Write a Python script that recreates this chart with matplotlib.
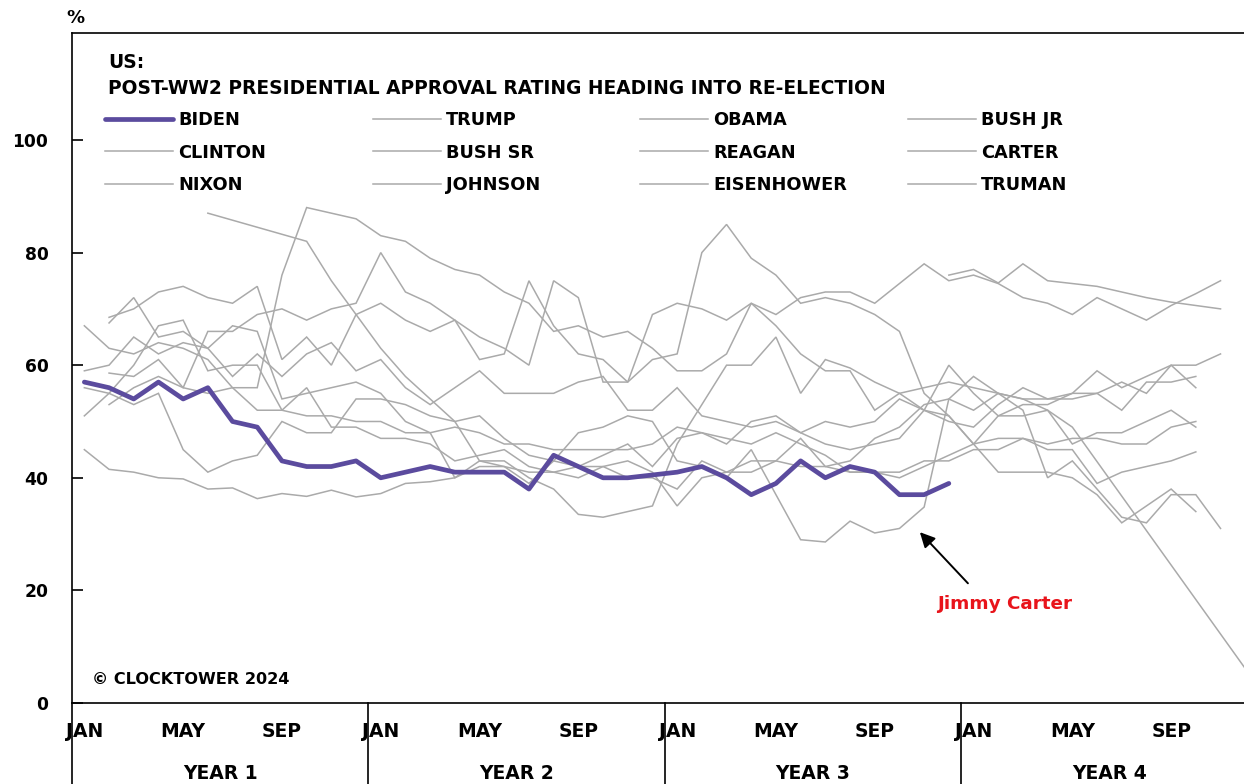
import numpy as np
import matplotlib.pyplot as plt
import matplotlib.transforms as mtransforms
from matplotlib.lines import Line2D

nan = np.nan
N = 49  # month slots, JAN year 1 = 0

def pad(vals, start=0):
    out = [nan] * N
    for i, v in enumerate(vals):
        out[start + i] = v
    return np.array(out, dtype=float)

biden = pad([57, 56, 54, 57, 54, 56, 50, 49, 43, 42, 42, 43,
             40, 41, 42, 41, 41, 41, 38, 44, 42, 40, 40, 40.5,
             41, 42, 40, 37, 39, 43, 40, 42, 41, 37, 37, 39])

trump = pad([45, 41.5, 41, 40, 39.8, 38, 38.2, 36.3, 37.2, 36.7, 37.8, 36.6,
             37.2, 39, 39.3, 40, 42, 42, 41, 41, 40, 42, 40, 40,
             38, 43, 41, 43, 43, 42, 42, 41, 41, 40, 42, 44,
             46, 47, 47, 45, 45, 39, 41, 42, 43, 44.6])
obama = pad([67, 63, 62, 64, 63, 61, 56, 52, 52, 51, 51, 50,
             50, 48, 48, 49, 48, 46, 46, 45, 45, 45, 45, 46,
             49, 48, 47, 46, 48, 46, 44, 41, 41, 41, 43, 43,
             45, 45, 47, 46, 47, 47, 46, 46, 49, 50])
bush_jr = pad([58.6, 58, 61, 56, 55, 56, 56, 76, 88, 87, 86,
               83, 82, 79, 77, 76, 73, 71, 66, 67, 65, 66, 63,
               59, 59, 62, 71, 67, 62, 59, 59, 52, 55, 52, 60,
               55, 51, 51, 52, 46, 48, 48, 50, 52, 49], start=1)
clinton = pad([56, 55, 53, 55, 45, 41, 43, 44, 50, 48, 48, 54,
               54, 53, 51, 50, 51, 47, 44, 43, 42, 44, 46, 42,
               47, 48, 46, 50, 51, 48, 46, 45, 46, 47, 52, 51,
               46, 51, 53, 53, 55, 55, 57, 55, 60, 56])
bush_sr = pad([53, 56, 58, 56, 66, 66, 69, 70, 68, 70, 71,
               80, 73, 71, 68, 65, 63, 60, 75, 72, 57, 57, 61,
               62, 80, 85, 79, 76, 71, 72, 71, 69, 66, 55, 51,
               46, 41, 41, 41, 40, 37, 32, 35, 38, 34], start=1)
reagan = pad([51, 55, 60, 67, 68, 59, 60, 60, 52, 56, 49, 49,
              47, 47, 46, 43, 44, 45, 42, 41, 42, 42, 43, 41,
              35, 40, 41, 41, 43, 47, 42, 43, 47, 49, 53, 54,
              52, 55, 54, 54, 54, 55, 52, 57, 57, 58])
carter = pad([67.5, 72, 65, 66, 63, 67, 66, 54, 55, 56, 57,
              55, 50, 48, 40, 43, 42, 39, 43, 48, 49, 51, 50,
              43, 42, 40, 45, 37, 29, 28.6, 32.3, 30.2, 31, 34.8, 54,
              58, 55, 52, 40, 43, 38, 33, 32, 37, 37, 31], start=1)
nixon = pad([59, 60, 65, 62, 64, 63, 58, 62, 58, 62, 64, 59,
             61, 56, 53, 56, 59, 55, 55, 55, 57, 58, 52, 52,
             56, 51, 50, 49, 50, 48, 50, 49, 50, 54, 52, 50,
             49, 53, 56, 54, 55, 59, 56, 58, 60, 60, 62])
johnson = pad([76, 77, 74.6, 78, 75, 74.5, 74, 73, 72, 71.2, 70.6, 70], start=35)
eisenhower = pad([68.5, 70, 73, 74, 72, 71, 74, 61, 65, 60, 69,
                  71, 68, 66, 68, 61, 62, 75, 67, 62, 61, 57, 69,
                  71, 70, 68, 71, 69, 72, 73, 73, 71, 74.5, 78, 75,
                  76, 74.5, 72, 71, 69, 72, 70, 68, 70.6, 72.7, 75], start=1)
truman = pad([87, nan, nan, nan, 82, 75, 69, 63, 58, 54, 50, 43, 43, 40, 38,
              33.5, 33, 34, 35, 46, 53, 60, 60, 65, 55, 61, 59.5, 57, 55, 56,
              57, 56, 55, 54, 52, 49, nan, nan, nan, nan, nan, nan, nan, 0],
             start=5)

series = [('BIDEN', biden), ('TRUMP', trump), ('OBAMA', obama), ('BUSH JR', bush_jr),
          ('CLINTON', clinton), ('BUSH SR', bush_sr), ('REAGAN', reagan), ('CARTER', carter),
          ('NIXON', nixon), ('JOHNSON', johnson), ('EISENHOWER', eisenhower), ('TRUMAN', truman)]

month_labels = ['JAN', 'MAY', 'SEP']
year_labels = ['YEAR 1', 'YEAR 2', 'YEAR 3', 'YEAR 4']

PURPLE = '#5b4b9e'
GREY = '#aaaaaa'

plt.rcParams['font.family'] = ['DejaVu Sans']
plt.rcParams['font.weight'] = 'bold'

W, H = 1244, 784
fig = plt.figure(figsize=(W / 100, H / 100), dpi=100)
ax = fig.add_axes([72 / W, (H - 703) / H, (1244 - 72) / W, (703 - 33) / H])

x = np.arange(N) + 0.5
for name, vals in series:
    if name == 'BIDEN':
        continue
    ok = ~np.isnan(vals)
    ax.plot(x[ok], vals[ok], color=GREY, lw=1.1, solid_joinstyle='miter')
ok = ~np.isnan(biden)
ax.plot(x[ok], biden[ok], color=PURPLE, lw=3.4, zorder=5, solid_capstyle='round')

ax.set_xlim(0, 47.45)
ax.set_ylim(0, 119)
for s in ['left', 'top', 'bottom']:
    ax.spines[s].set_linewidth(1.2)
ax.spines['right'].set_visible(False)

ax.set_yticks([0, 20, 40, 60, 80, 100])
ax.tick_params(axis='y', direction='in', length=8, width=1.2, pad=17, labelsize=12.3)
pos = [y * 12 + m + 0.5 for y in range(4) for m in (0, 4, 8)]
ax.set_xticks(pos)
ax.set_xticklabels(month_labels * 4)
ax.tick_params(axis='x', length=0, pad=14, labelsize=13.5)

trans = mtransforms.blended_transform_factory(ax.transData, ax.transAxes)
for i, lab in enumerate(year_labels):
    ax.text(i * 12 + 6, -0.105, lab, transform=trans, ha='center', va='center',
            fontsize=13.5, fontweight='bold')
    ax.plot([i * 12, i * 12], [0, -0.13], transform=trans, color='black', lw=1.2,
            clip_on=False)

fig.text(75 / W, 1 - 18 / H, '%', ha='center', va='center', fontsize=13, fontweight='bold')
fig.text(108 / W, 1 - 62 / H, 'US:', ha='left', va='center', fontsize=13.4, fontweight='bold')
fig.text(108 / W, 1 - 88 / H, 'POST-WW2 PRESIDENTIAL APPROVAL RATING HEADING INTO RE-ELECTION',
         ha='left', va='center', fontsize=13.4, fontweight='bold')

cols = [['BIDEN', 'CLINTON', 'NIXON'], ['TRUMP', 'BUSH SR', 'JOHNSON'],
        ['OBAMA', 'REAGAN', 'EISENHOWER'], ['BUSH JR', 'CARTER', 'TRUMAN']]
col_x = [105, 373, 640, 908]
for cx, names in zip(col_x, cols):
    hs = []
    for n in names:
        if n == 'BIDEN':
            hs.append(Line2D([], [], color=PURPLE, lw=3.4, solid_capstyle='round'))
        else:
            hs.append(Line2D([], [], color=GREY, lw=1.1))
    leg = fig.legend(hs, names, loc='upper left', bbox_to_anchor=(cx / W, 1 - 111 / H),
                     frameon=False, fontsize=12.8, handlelength=3.8, handletextpad=0.3,
                     labelspacing=0.82, borderpad=0, borderaxespad=0)
    for t in leg.get_texts():
        t.set_fontweight('bold')

ax.annotate('', xy=(34.25, 30.7), xytext=(36.35, 20.9),
            arrowprops=dict(arrowstyle='-|>,head_length=0.9,head_width=0.45', color='black', lw=1.4))
ax.text(37.75, 17.6, 'Jimmy Carter', color='#e8141b', ha='center', va='center',
        fontsize=13.2, fontweight='bold')

fig.text(92 / W, 1 - 680 / H, '© CLOCKTOWER 2024', ha='left', va='center',
         fontsize=11.6, fontweight='bold')

fig.savefig('out.png', dpi=100)
